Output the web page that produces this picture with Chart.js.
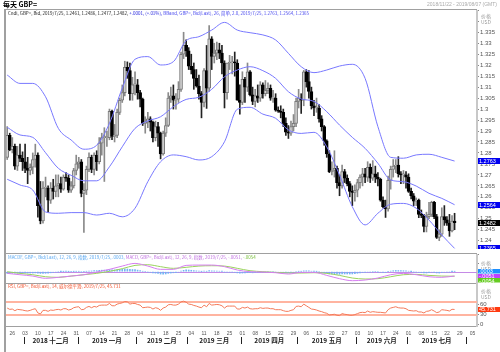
<!DOCTYPE html>
<html lang="zh-CN">
<head>
<meta charset="UTF-8">
<title>每天 GBP=</title>
<script src="https://cdn.jsdelivr.net/npm/chart.js@4"></script>
<style>
  html, body { margin: 0; padding: 0; background: #fff; }
  #wrap { position: relative; width: 500px; height: 352px; overflow: hidden; background: #fff; }
  #wrap canvas { position: absolute; }
</style>
</head>
<body>
<div id="wrap">
  <canvas id="frame" width="500" height="352" style="left:0;top:0"></canvas>
  <canvas id="cMain" width="494" height="239" style="left:6px;top:10px"></canvas>
  <canvas id="cMacd" width="494" height="29" style="left:6px;top:254px"></canvas>
  <canvas id="cRsi" width="494" height="69" style="left:6px;top:283px"></canvas>
</div>
<script>
// trading day index: 0 = 2018-11-22 ... 175 = 2019-07-25
const openP = [
  1.2780,1.2880,1.2815,1.2830,1.2740,1.2790,1.2775,1.2760,1.2730,1.2720,
  1.2735,1.2770,1.2790,1.2560,1.2490,1.2640,1.2640,1.2585,1.2640,1.2625,
  1.2650,1.2660,1.2635,1.2690,1.2685,1.2630,1.2650,1.2720,1.2750,1.2760,
  1.2615,1.2630,1.2725,1.2780,1.2725,1.2790,1.2760,1.2845,1.2870,1.2870,
  1.2870,1.2990,1.2875,1.2880,1.2985,1.3040,1.3075,1.3190,1.3175,1.3070,
  1.3110,1.3110,1.3075,1.3045,1.2935,1.2940,1.2955,1.2940,1.2870,1.2920,
  1.2890,1.2795,1.2890,1.2925,1.3050,1.3060,1.3040,1.3045,1.3090,1.3250,
  1.3290,1.3265,1.3195,1.3180,1.3140,1.3105,1.3070,1.3030,1.3175,1.3095,
  1.3320,1.3240,1.3255,1.3270,1.3255,1.3210,1.3075,1.3210,1.3210,1.3215,
  1.3210,1.3040,1.3030,1.3135,1.3100,1.3170,1.3065,1.3035,1.3060,1.3050,
  1.3110,1.3070,1.3085,1.3095,1.3050,1.3050,1.2995,1.2990,1.2985,1.2935,
  1.2895,1.2890,1.2920,1.2935,1.3035,1.3050,1.3040,1.3170,1.3125,1.3080,
  1.3015,1.3005,1.3005,1.2955,1.2920,1.2855,1.2795,1.2715,1.2720,1.2730,
  1.2665,1.2650,1.2715,1.2685,1.2660,1.2625,1.2620,1.2630,1.2665,1.2690,
  1.2705,1.2690,1.2735,1.2685,1.2705,1.2690,1.2680,1.2585,1.2555,1.2545,
  1.2675,1.2725,1.2740,1.2745,1.2705,1.2700,1.2700,1.2690,1.2625,1.2605,
  1.2580,1.2585,1.2520,1.2515,1.2465,1.2510,1.2520,1.2575,1.2510,1.2415,
  1.2430,1.2510,1.2495,1.2480,1.2445,1.2490
];
const highP = [
  1.2920,1.2890,1.2870,1.2840,1.2830,1.2840,1.2805,1.2840,1.2780,1.2750,
  1.2800,1.2840,1.2800,1.2670,1.2670,1.2690,1.2650,1.2665,1.2680,1.2700,
  1.2700,1.2690,1.2700,1.2710,1.2700,1.2670,1.2730,1.2790,1.2780,1.2770,
  1.2660,1.2740,1.2800,1.2790,1.2800,1.2810,1.2870,1.2890,1.2915,1.2900,
  1.3000,1.2995,1.2930,1.3000,1.3050,1.3110,1.3218,1.3215,1.3210,1.3145,
  1.3170,1.3135,1.3085,1.3050,1.2965,1.2985,1.2965,1.2945,1.2945,1.2940,
  1.2895,1.2900,1.2960,1.3075,1.3100,1.3110,1.3070,1.3125,1.3260,1.3350,
  1.3315,1.3280,1.3250,1.3210,1.3180,1.3155,1.3080,1.3185,1.3290,1.3380,
  1.3330,1.3300,1.3305,1.3300,1.3290,1.3220,1.3210,1.3245,1.3240,1.3260,
  1.3225,1.3110,1.3170,1.3145,1.3210,1.3175,1.3100,1.3090,1.3110,1.3125,
  1.3120,1.3130,1.3120,1.3110,1.3085,1.3070,1.3010,1.3015,1.3000,1.2960,
  1.2925,1.2945,1.2975,1.3050,1.3090,1.3070,1.3176,1.3180,1.3175,1.3100,
  1.3040,1.3050,1.3020,1.2970,1.2925,1.2860,1.2810,1.2760,1.2810,1.2740,
  1.2700,1.2745,1.2725,1.2700,1.2670,1.2650,1.2655,1.2680,1.2700,1.2730,
  1.2730,1.2760,1.2750,1.2765,1.2740,1.2710,1.2685,1.2600,1.2585,1.2695,
  1.2740,1.2770,1.2770,1.2783,1.2715,1.2720,1.2715,1.2705,1.2640,1.2615,
  1.2595,1.2590,1.2540,1.2520,1.2530,1.2575,1.2580,1.2580,1.2520,1.2450,
  1.2550,1.2560,1.2510,1.2520,1.2515,1.2525
];
const lowP = [
  1.2770,1.2810,1.2800,1.2725,1.2720,1.2760,1.2720,1.2710,1.2660,1.2700,
  1.2705,1.2735,1.2507,1.2477,1.2480,1.2600,1.2530,1.2570,1.2590,1.2600,
  1.2600,1.2620,1.2630,1.2670,1.2620,1.2620,1.2640,1.2700,1.2730,1.2600,
  1.2438,1.2610,1.2715,1.2710,1.2700,1.2720,1.2750,1.2790,1.2670,1.2830,
  1.2860,1.2860,1.2850,1.2870,1.2975,1.3030,1.3060,1.3140,1.3040,1.3040,
  1.3065,1.3045,1.3010,1.2925,1.2890,1.2915,1.2900,1.2850,1.2855,1.2830,
  1.2773,1.2790,1.2875,1.2920,1.3030,1.3000,1.3000,1.3030,1.3080,1.3230,
  1.3240,1.3180,1.3160,1.3090,1.3100,1.3045,1.2960,1.3010,1.3003,1.3080,
  1.3180,1.3210,1.3225,1.3230,1.3160,1.3005,1.3045,1.3180,1.3160,1.3150,
  1.3040,1.2977,1.3020,1.3030,1.3080,1.3060,1.3020,1.3010,1.3030,1.3035,
  1.3050,1.3060,1.3070,1.3040,1.3030,1.2990,1.2985,1.2960,1.2920,1.2880,
  1.2866,1.2880,1.2900,1.2920,1.3005,1.2980,1.3015,1.3100,1.3050,1.3000,
  1.2970,1.2985,1.2940,1.2900,1.2835,1.2780,1.2710,1.2700,1.2690,1.2640,
  1.2605,1.2640,1.2665,1.2650,1.2600,1.2560,1.2580,1.2600,1.2640,1.2650,
  1.2665,1.2670,1.2665,1.2675,1.2665,1.2650,1.2580,1.2550,1.2506,1.2535,
  1.2635,1.2690,1.2710,1.2690,1.2660,1.2660,1.2640,1.2620,1.2590,1.2560,
  1.2560,1.2505,1.2505,1.2440,1.2440,1.2500,1.2510,1.2500,1.2410,1.2400,
  1.2420,1.2470,1.2470,1.2420,1.2440,1.2450
];
const closeP = [
  1.2880,1.2815,1.2830,1.2740,1.2790,1.2775,1.2760,1.2730,1.2720,1.2735,
  1.2770,1.2790,1.2560,1.2490,1.2640,1.2640,1.2585,1.2640,1.2625,1.2650,
  1.2660,1.2635,1.2690,1.2685,1.2630,1.2650,1.2720,1.2750,1.2760,1.2615,
  1.2630,1.2725,1.2780,1.2725,1.2790,1.2760,1.2845,1.2870,1.2870,1.2870,
  1.2990,1.2875,1.2880,1.2985,1.3040,1.3075,1.3190,1.3175,1.3070,1.3110,
  1.3110,1.3075,1.3045,1.2935,1.2940,1.2955,1.2940,1.2870,1.2920,1.2890,
  1.2795,1.2890,1.2925,1.3050,1.3060,1.3040,1.3045,1.3090,1.3250,1.3290,
  1.3265,1.3195,1.3180,1.3140,1.3105,1.3070,1.3030,1.3175,1.3095,1.3320,
  1.3240,1.3255,1.3270,1.3255,1.3210,1.3075,1.3210,1.3210,1.3215,1.3210,
  1.3040,1.3030,1.3135,1.3100,1.3170,1.3065,1.3035,1.3060,1.3050,1.3110,
  1.3070,1.3085,1.3095,1.3050,1.3050,1.2995,1.2990,1.2985,1.2935,1.2895,
  1.2890,1.2920,1.2935,1.3035,1.3050,1.3040,1.3170,1.3125,1.3080,1.3015,
  1.3005,1.3005,1.2955,1.2920,1.2855,1.2795,1.2715,1.2720,1.2730,1.2665,
  1.2650,1.2715,1.2685,1.2660,1.2625,1.2620,1.2630,1.2665,1.2690,1.2705,
  1.2690,1.2735,1.2685,1.2705,1.2690,1.2680,1.2585,1.2555,1.2545,1.2675,
  1.2725,1.2740,1.2745,1.2705,1.2700,1.2700,1.2690,1.2625,1.2605,1.2580,
  1.2585,1.2520,1.2515,1.2465,1.2510,1.2520,1.2575,1.2510,1.2415,1.2430,
  1.2510,1.2495,1.2480,1.2445,1.2490,1.2482
];

// Bollinger bands, read every 5 trading days
const bandIdx = [0,5,10,15,20,25,30,35,40,45,50,55,60,65,70,75,80,85,90,95,100,105,110,115,120,125,130,135,140,145,150,155,160,165,170,175];
const bbUpper = [1.3155,1.3117,1.3117,1.3056,1.2912,1.2859,1.2817,1.2835,1.2935,1.3095,1.3227,1.3239,1.3201,1.3216,1.3312,1.3330,1.3360,1.3395,1.3360,1.3348,1.3338,1.3315,1.3254,1.3193,1.3166,1.3178,1.3196,1.3204,1.3140,1.2920,1.2780,1.2776,1.2791,1.2794,1.2780,1.2763];
const bbMid   = [1.2917,1.2882,1.2871,1.2801,1.2730,1.2698,1.2673,1.2673,1.2737,1.2828,1.2912,1.2946,1.2965,1.3011,1.3044,1.3054,1.3090,1.3147,1.3178,1.3193,1.3175,1.3140,1.3079,1.3046,1.3035,1.2988,1.2927,1.2871,1.2821,1.2753,1.2677,1.2669,1.2649,1.2616,1.2593,1.2564];
const bbLower = [1.2680,1.2654,1.2631,1.2531,1.2525,1.2528,1.2528,1.2517,1.2525,1.2509,1.2548,1.2669,1.2760,1.2791,1.2783,1.2768,1.2783,1.2851,1.2999,1.3008,1.2977,1.2958,1.2905,1.2889,1.2894,1.2828,1.2699,1.2555,1.2472,1.2525,1.2566,1.2570,1.2548,1.2494,1.2426,1.2365];

// MACD (12,26,9): lines read every 5 days, histogram read per day
const macdIdx = bandIdx;
const macdLine   = [-0.0020,-0.0036,-0.0052,-0.0079,-0.0067,-0.0052,-0.0036,-0.0004,0.0028,0.0067,0.0099,0.0067,0.0028,0.0028,0.0075,0.0079,0.0079,0.0060,0.0020,0.0000,-0.0004,-0.0012,-0.0028,-0.0008,-0.0008,-0.0044,-0.0083,-0.0107,-0.0099,-0.0075,-0.0036,-0.0020,-0.0036,-0.0060,-0.0067,-0.0051];
const macdSignal = [0.0000,-0.0020,-0.0036,-0.0060,-0.0067,-0.0052,-0.0036,-0.0020,0.0004,0.0036,0.0075,0.0083,0.0060,0.0040,0.0052,0.0067,0.0071,0.0067,0.0040,0.0012,0.0000,-0.0008,-0.0016,-0.0016,-0.0012,-0.0020,-0.0044,-0.0075,-0.0087,-0.0083,-0.0060,-0.0036,-0.0032,-0.0044,-0.0052,-0.0054];
const macdHist = [
  -.0020,-.0019,-.0018,-.0018,-.0017,-.0016,-.0016,-.0015,-.0016,-.0016,
  -.0016,-.0014,-.0018,-.0021,-.0020,-.0019,-.0017,-.0013,-.0009,-.0005,
  -.0002,.0001,.0002,.0002,.0001,.0000,.0002,.0004,.0004,-.0001,
  .0000,.0004,.0008,.0009,.0012,.0013,.0016,.0018,.0019,.0020,
  .0024,.0022,.0021,.0024,.0027,.0029,.0033,.0032,.0027,.0026,
  .0024,.0019,.0013,.0005,.0000,-.0004,-.0008,-.0014,-.0017,-.0020,
  -.0028,-.0030,-.0027,-.0020,-.0016,-.0013,-.0011,-.0006,.0006,.0016,
  .0021,.0020,.0017,.0013,.0010,.0006,.0002,.0006,.0004,.0012,
  .0010,.0009,.0008,.0006,.0003,-.0004,-.0004,-.0005,-.0006,-.0007,
  -.0014,-.0018,-.0016,-.0016,-.0012,-.0013,-.0013,-.0011,-.0009,-.0006,
  -.0005,-.0004,-.0003,-.0003,-.0003,-.0005,-.0006,-.0007,-.0009,-.0011,
  -.0012,-.0010,-.0007,-.0001,.0003,.0004,.0010,.0011,.0010,.0006,
  .0004,.0002,-.0002,-.0006,-.0012,-.0018,-.0026,-.0027,-.0027,-.0030,
  -.0031,-.0027,-.0027,-.0027,-.0028,-.0027,-.0024,-.0019,-.0014,-.0010,
  -.0009,-.0005,-.0004,-.0001,.0000,-.0001,-.0006,-.0008,-.0009,.0000,
  .0007,.0012,.0015,.0014,.0013,.0012,.0011,.0006,.0001,-.0003,
  -.0004,-.0009,-.0011,-.0016,-.0015,-.0012,-.0006,-.0008,-.0015,-.0016,
  -.0010,-.0006,-.0004,-.0004,.0001,.0003
];

// RSI (14), per day
const rsiVal = [
  50,46,47,42,46,45,44,42,41,43,
  46,48,35,32,43,43,40,44,43,45,
  46,44,48,48,44,46,51,53,54,45,
  46,52,55,51,55,53,58,59,59,59,
  64,57,57,62,64,66,70,69,62,64,
  64,61,59,51,52,53,52,47,51,49,
  43,50,53,60,61,59,59,62,69,71,
  68,62,61,58,56,53,51,59,54,64,
  59,60,61,60,57,50,56,56,56,56,
  47,47,52,50,53,48,47,48,48,51,
  49,50,50,48,48,45,45,45,42,40,
  40,43,45,55,56,54,62,57,52,47,
  46,44,41,39,36,34,29,30,31,28,
  27,33,31,30,28,28,30,33,36,37,
  36,41,37,39,38,37,37,36,35,45,
  50,52,54,51,50,50,48,43,42,41,
  42,38,38,35,40,41,45,41,36,38,
  45,44,43,41,46.2,45.731
];
const rsiLevels = [70, 30];
const rsiTicks = [0, 30, 60];

// date axis
const weekIdx = [2,7,12,17,22,27,32,37,42,47,52,57,62,67,72,77,82,87,92,97,102,107,112,117,122,127,132,137,142,147,152,157,162,167,172,177,182];
const weekLbl = ['26','03','10','17','24','31','07','14','21','28','04','11','18','25','04','11','18','25','01','08','15','22','29','06','13','20','27','03','10','17','24','01','08','15','22','29','05'];
const monthBounds = [6.5,27.5,50.5,70.5,91.5,113.5,136.5,156.5,179.5];
const monthLbl = ['2018 十二月','2019 一月','2019 二月','2019 三月','2019 四月','2019 五月','2019 六月','2019 七月'];

const X_MIN = -0.47, X_MAX = 183.77, AXIS_W = 23;
const SANS = '"Liberation Sans", "DejaVu Sans", sans-serif';
const CJK = '"Noto Sans CJK SC", sans-serif';

Chart.defaults.font.family = SANS;
Chart.defaults.plugins.legend.display = false;
Chart.defaults.plugins.tooltip.enabled = false;

const pts = (xs, ys) => xs.map((x, k) => ({ x: x, y: ys[k] }));
const daily = ys => ys.map((y, i) => ({ x: i, y: y }));

const xAxis = { type: 'linear', min: X_MIN, max: X_MAX, display: false, offset: false };

function rightAxis(min, max, step, fmt) {
  return {
    position: 'right', min: min, max: max,
    afterFit(s) { s.width = AXIS_W; s.paddingTop = 0; s.paddingBottom = 0; },
    ticks: {
      stepSize: step, includeBounds: false, autoSkip: false, padding: 1,
      color: '#555', font: { size: 6 }, callback: fmt
    },
    grid: { drawOnChartArea: false, tickLength: 2, color: '#888' },
    border: { color: '#c8c8c8', width: 2 }
  };
}

// header text in the top-left of a panel, squeezed to the width it takes in the picture
function header(parts, y, width) {
  return {
    id: 'header',
    afterDraw(chart) {
      const ctx = chart.ctx;
      ctx.save();
      ctx.font = '10px ' + CJK;
      const full = ctx.measureText(parts.map(p => p[0]).join('')).width;
      ctx.font = (10 * width / full).toFixed(2) + 'px ' + CJK;
      ctx.textBaseline = 'middle';
      let x = 2;
      parts.forEach(p => {
        ctx.fillStyle = p[1];
        ctx.fillText(p[0], x, y);
        x += ctx.measureText(p[0]).width;
      });
      ctx.restore();
    }
  };
}

// unit label at the top of each right axis
function unitLabel(y) {
  return {
    id: 'unit',
    afterDraw(chart) {
      const ctx = chart.ctx, x = chart.chartArea.right + 4;
      ctx.save();
      ctx.fillStyle = '#9a9a9a';
      ctx.font = '5px ' + CJK;
      ctx.textBaseline = 'middle';
      ctx.fillText('价格', x, y);
      ctx.fillText('USD', x, y + 6);
      ctx.restore();
    }
  };
}

// coloured value boxes on the right axis
function valueBoxes(items, h) {
  return {
    id: 'boxes',
    afterDraw(chart) {
      const ctx = chart.ctx, ys = chart.scales.y, left = chart.chartArea.right + 1;
      const list = items.map(it => Object.assign({ py: ys.getPixelForValue(it.v) }, it))
        .sort((a, b) => a.py - b.py);
      for (let k = 1; k < list.length; k++) {
        if (list[k].py - list[k - 1].py < h) list[k].py = list[k - 1].py + h;
      }
      ctx.save();
      ctx.font = '5.5px ' + SANS;
      ctx.textBaseline = 'middle';
      list.forEach(it => {
        ctx.fillStyle = it.bg;
        ctx.fillRect(left, Math.round(it.py - h / 2), chart.width - left, h);
        ctx.fillStyle = it.fg || '#fff';
        ctx.fillText(it.t, left + 1, it.py + 0.5);
      });
      ctx.restore();
    }
  };
}

// ---------- main candle panel ----------
const up = closeP.map((c, i) => c >= openP[i]);
new Chart(document.getElementById('cMain'), {
  type: 'bar',
  data: {
    datasets: [
      { type: 'line', data: pts(bandIdx, bbUpper), borderColor: '#7878ff', borderWidth: 1, pointRadius: 0, cubicInterpolationMode: 'monotone', order: 0 },
      { type: 'line', data: pts(bandIdx, bbMid), borderColor: '#7878ff', borderWidth: 1, pointRadius: 0, cubicInterpolationMode: 'monotone', order: 0 },
      { type: 'line', data: pts(bandIdx, bbLower), borderColor: '#7878ff', borderWidth: 1, pointRadius: 0, cubicInterpolationMode: 'monotone', order: 0 },
      { data: lowP.map((l, i) => ({ x: i, y: [l, highP[i]] })), backgroundColor: up.map(u => u ? '#8a8a8a' : '#222'), barThickness: 1, grouped: false, order: 2 },
      { data: openP.map((o, i) => ({ x: i, y: [o, closeP[i]] })), backgroundColor: up.map(u => u ? '#d0d0d0' : '#000'),
        borderColor: up.map(u => u ? '#7a7a7a' : '#000'), borderWidth: 1, borderSkipped: false, barThickness: 3, minBarLength: 1, grouped: false, order: 1 }
    ]
  },
  options: {
    responsive: false, animation: false, devicePixelRatio: 1,
    layout: { padding: 0 },
    scales: {
      x: xAxis,
      // the top tick (1.34) sits under the unit label and is not printed
      y: rightAxis(1.23622, 1.34515, 0.005, v => v > 1.336 ? '' : Number(v.toFixed(3)).toString())
    }
  },
  plugins: [
    header([
      ['Cndl, GBP=, Bid, 2019/7/25, 1.2461, 1.2486, 1.2477, 1.2482, ', '#222'],
      ['+.0001, (+.01%), ', '#2222dd'],
      ['BBand, GBP=, Bid(Last), 26, 简单, 2.0, 2019/7/25, 1.2763, 1.2564, 1.2365', '#4a4aee']
    ], 3.5, 302),
    unitLabel(6.5),
    valueBoxes([
      { v: 1.2763, t: '1.2763', bg: '#0000f0' },
      { v: 1.2564, t: '1.2564', bg: '#0000f0' },
      { v: 1.2482, t: '1.2482', bg: '#000' },
      { v: 1.2365, t: '1.2365', bg: '#0000f0' }
    ], 6)
  ]
});

// ---------- MACD panel ----------
new Chart(document.getElementById('cMacd'), {
  type: 'bar',
  data: {
    datasets: [
      { type: 'line', data: pts(macdIdx, macdLine), borderColor: '#d67ef0', borderWidth: 1, pointRadius: 0, cubicInterpolationMode: 'monotone', order: 0 },
      { type: 'line', data: pts(macdIdx, macdSignal), borderColor: '#9ad35c', borderWidth: 1, pointRadius: 0, cubicInterpolationMode: 'monotone', order: 0 },
      { data: daily(macdHist), backgroundColor: '#72b4f4', barThickness: 1, order: 1 }
    ]
  },
  options: {
    responsive: false, animation: false, devicePixelRatio: 1,
    scales: {
      x: xAxis,
      y: rightAxis(-0.01345, 0.02107, 0.01, () => '')
    }
  },
  plugins: [
    {
      id: 'zero',
      beforeDatasetsDraw(chart) {
        const y = chart.scales.y.getPixelForValue(0), a = chart.chartArea, ctx = chart.ctx;
        ctx.save(); ctx.fillStyle = '#c58ae6'; ctx.fillRect(a.left, Math.round(y), a.right - a.left, 1); ctx.restore();
      }
    },
    header([
      ['MACDF, GBP=, Bid(Last), 12, 26, 9, 指数, 2019/7/25, .0003, ', '#5aa8f0'],
      ['MACD, GBP=, Bid(Last), 12, 26, 9, 指数, 2019/7/25, -.0051, ', '#c070e0'],
      ['-.0054', '#7cc040']
    ], 3, 249),
    unitLabel(9.5),
    valueBoxes([
      { v: 0.0003, t: '.0003', bg: '#1e90ff' },
      { v: -0.0051, t: '-.0051', bg: '#c040ff' },
      { v: -0.0054, t: '-.0054', bg: '#66cc22' }
    ], 4.5)
  ]
});

// ---------- RSI panel + date axis ----------
new Chart(document.getElementById('cRsi'), {
  type: 'line',
  data: {
    datasets: [
      { data: daily(rsiVal), borderColor: '#f47a5a', borderWidth: 1, pointRadius: 0, tension: 0 }
    ]
  },
  options: {
    responsive: false, animation: false, devicePixelRatio: 1,
    layout: { padding: { bottom: 26 } },
    scales: {
      x: xAxis,
      y: Object.assign(rightAxis(-4.8, 126.5, 30, v => v), {
        afterBuildTicks(s) { s.ticks = rsiTicks.map(v => ({ value: v })); }
      })
    }
  },
  plugins: [
    {
      id: 'levels',
      beforeDatasetsDraw(chart) {
        const a = chart.chartArea, ctx = chart.ctx;
        ctx.save(); ctx.fillStyle = '#ffb4a0';
        rsiLevels.forEach(l => ctx.fillRect(a.left, Math.round(chart.scales.y.getPixelForValue(l)) - 1, a.right - a.left, 2));
        ctx.restore();
      }
    },
    header([['RSI, GBP=, Bid(Last), 14, 威尔德平滑, 2019/7/25, 45.731', '#f25530']], 3.5, 113),
    unitLabel(8.5),
    valueBoxes([{ v: 45.731, t: '45.731', bg: '#ff3a10' }], 5),
    {
      id: 'dates',
      afterDraw(chart) {
        const ctx = chart.ctx, xs = chart.scales.x, yb = chart.chartArea.bottom;
        ctx.save();
        ctx.textAlign = 'center';
        ctx.textBaseline = 'middle';
        ctx.fillStyle = '#555';
        ctx.font = '5px ' + SANS;
        weekIdx.forEach((d, k) => ctx.fillText(weekLbl[k], xs.getPixelForValue(d), yb + 7.5));
        ctx.fillStyle = '#222';
        monthBounds.forEach(b => ctx.fillRect(Math.round(xs.getPixelForValue(b)), yb + 11, 1, 7));
        ctx.font = 'bold 6.5px ' + CJK;
        monthLbl.forEach((t, k) => {
          const cx = (xs.getPixelForValue(monthBounds[k]) + xs.getPixelForValue(monthBounds[k + 1])) / 2;
          ctx.fillText(t, cx, yb + 14.5);
        });
        ctx.restore();
      }
    }
  ]
});

// ---------- window frame and titles ----------
const f = document.getElementById('frame').getContext('2d');
f.fillStyle = '#000';
f.font = 'bold 7px ' + CJK;
f.textBaseline = 'middle';
f.fillText('每天 GBP=', 3, 4.5);
f.fillStyle = '#aaa';
f.font = '5px ' + SANS;
f.textAlign = 'right';
f.fillText('2018/11/22 - 2019/08/07 (GMT)', 497, 4.5);
f.textAlign = 'left';
f.fillStyle = '#a0a0a0';
f.fillRect(5, 9, 472, 1);
f.fillRect(4, 9, 2, 343);
f.fillRect(6, 253, 471, 1);
f.fillRect(6, 283, 471, 1);
f.fillRect(6, 326, 471, 1);
</script>
</body>
</html>
